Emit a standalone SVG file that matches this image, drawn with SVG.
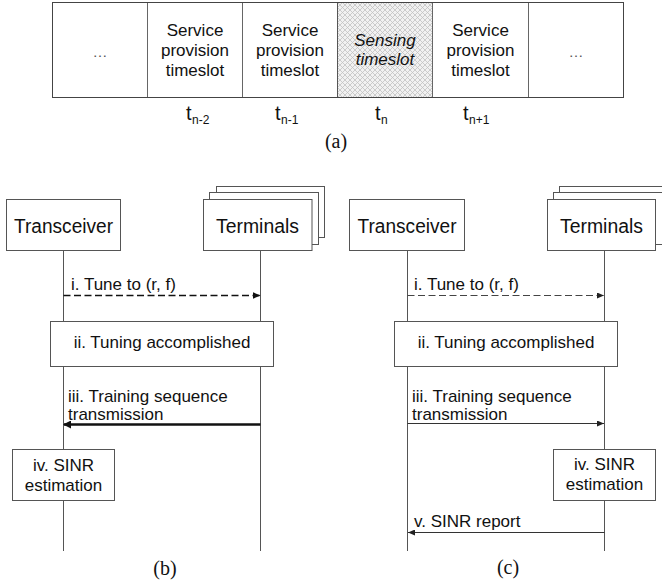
<svg xmlns="http://www.w3.org/2000/svg" width="662" height="582" viewBox="0 0 662 582">
<defs>
<style>
.s{font-family:"Liberation Sans",Arial,sans-serif;font-size:17px;fill:#111}
.m{text-anchor:middle}
.h{font-size:20px}
.it{font-style:italic}
.sub{font-size:12px}
.cap{font-family:"Liberation Serif","Times New Roman",serif;font-size:20px;fill:#111;text-anchor:middle}
.box{fill:#fff;stroke:#555;stroke-width:1}
.life{stroke:#555;stroke-width:1;fill:none}
.cell{fill:#fff;stroke:#666;stroke-width:1}
.dots{fill:#555;font-size:15px}
</style>
<pattern id="hatch" width="5" height="5" patternUnits="userSpaceOnUse">
<rect width="5" height="5" fill="#f1f1f1"/>
<path d="M0,0 L5,5 M5,0 L0,5" stroke="#c2c2c2" stroke-width="0.8"/>
</pattern>
<marker id="ah" markerUnits="userSpaceOnUse" markerWidth="8" markerHeight="7" refX="8" refY="3.5" orient="auto"><path d="M0,0 L8,3.5 L0,7 z" fill="#111"/></marker>
<marker id="ahb" markerUnits="userSpaceOnUse" markerWidth="8" markerHeight="8" refX="7" refY="4" orient="auto"><path d="M0,0 L8,4 L0,8 z" fill="#111"/></marker>
<marker id="ahg" markerUnits="userSpaceOnUse" markerWidth="7" markerHeight="6" refX="7" refY="3" orient="auto"><path d="M0,0 L7,3 L0,6 z" fill="#222"/></marker>
</defs>
<rect width="662" height="582" fill="#fff"/>

<!-- (a) timeline -->
<g id="timeline">
<g id="cell-prev"><rect class="cell" x="52.5" y="2.5" width="95" height="95"/><text class="s m dots" x="100" y="57">…</text></g>
<g id="cell-tn2"><rect class="cell" x="147.5" y="2.5" width="95" height="95"/>
<text class="s m" x="195" y="36">Service</text><text class="s m" x="195" y="56">provision</text><text class="s m" x="195" y="76">timeslot</text></g>
<g id="cell-tn1"><rect class="cell" x="242.5" y="2.5" width="95" height="95"/>
<text class="s m" x="290" y="36">Service</text><text class="s m" x="290" y="56">provision</text><text class="s m" x="290" y="76">timeslot</text></g>
<g id="cell-tn"><rect x="337.5" y="2.5" width="95" height="95" fill="url(#hatch)" stroke="#555" stroke-width="1"/>
<text class="s m it" x="385" y="46">Sensing</text><text class="s m it" x="385" y="65">timeslot</text></g>
<g id="cell-tn+1"><rect class="cell" x="432.5" y="2.5" width="96" height="95"/>
<text class="s m" x="480.5" y="36">Service</text><text class="s m" x="480.5" y="56">provision</text><text class="s m" x="480.5" y="76">timeslot</text></g>
<g id="cell-next"><rect class="cell" x="528.5" y="2.5" width="95" height="95"/><text class="s m dots" x="576" y="57">…</text></g>
<rect x="52.5" y="2.5" width="571" height="95" fill="none" stroke="#444" stroke-width="1"/>
<g id="labels">
<text class="s h" x="186" y="120">t</text><text class="s sub" x="192" y="124">n-2</text>
<text class="s h" x="275" y="120">t</text><text class="s sub" x="281" y="124">n-1</text>
<text class="s h" x="375" y="120">t</text><text class="s sub" x="381" y="124">n</text>
<text class="s h" x="463" y="120">t</text><text class="s sub" x="469" y="124">n+1</text>
</g>
<text class="cap" x="336" y="148">(a)</text>
</g>

<!-- (b) -->
<g id="lifelines-b">
<line class="life" x1="63.5" y1="251" x2="63.5" y2="551"/>
<line class="life" x1="260.5" y1="251" x2="260.5" y2="551"/>
</g>
<g id="b-transceiver"><rect class="box" x="6.5" y="199.5" width="114" height="51"/>
<text class="s h m" x="63.5" y="233" textLength="99" lengthAdjust="spacingAndGlyphs">Transceiver</text></g>
<g id="b-terminals">
<rect class="box" x="216.5" y="186.5" width="108" height="51"/>
<rect class="box" x="209.5" y="192.5" width="109" height="52"/>
<rect class="box" x="203.5" y="199.5" width="108.5" height="51"/>
<text class="s h m" x="257.5" y="233" textLength="83" lengthAdjust="spacingAndGlyphs">Terminals</text></g>
<g id="b-tuning"><rect class="box" x="50.5" y="321.5" width="223" height="45"/>
<text class="s m" x="162" y="348">ii. Tuning accomplished</text></g>
<g id="b-sinr"><rect class="box" x="12.5" y="449.5" width="102" height="51"/>
<text class="s m" x="63.5" y="471">iv. SINR</text><text class="s m" x="63.5" y="491">estimation</text></g>
<g id="connectors-b">
<line x1="63.5" y1="295.5" x2="260.5" y2="295.5" stroke="#111" stroke-width="1.6" stroke-dasharray="7,3.5" marker-end="url(#ah)"/>
<text class="s" x="71" y="290">i. Tune to (r, f)</text>
<text class="s" x="68" y="402">iii. Training sequence</text>
<text class="s" x="68" y="420">transmission</text>
<line x1="260.5" y1="424.5" x2="64" y2="424.5" stroke="#111" stroke-width="2.6" marker-end="url(#ahb)"/>
</g>
<text class="cap" x="165" y="575">(b)</text>

<!-- (c) -->
<g id="lifelines-c">
<line class="life" x1="407.5" y1="251" x2="407.5" y2="551"/>
<line class="life" x1="604.5" y1="251" x2="604.5" y2="551"/>
</g>
<g id="c-transceiver"><rect class="box" x="349.5" y="199.5" width="115" height="51"/>
<text class="s h m" x="407" y="233" textLength="99" lengthAdjust="spacingAndGlyphs">Transceiver</text></g>
<g id="c-terminals">
<rect class="box" x="559.5" y="186.5" width="110" height="51"/>
<rect class="box" x="553.5" y="192.5" width="110" height="52"/>
<rect class="box" x="547.5" y="199.5" width="108" height="51"/>
<text class="s h m" x="601.5" y="233" textLength="83" lengthAdjust="spacingAndGlyphs">Terminals</text></g>
<g id="c-tuning"><rect class="box" x="394.5" y="321.5" width="223" height="45"/>
<text class="s m" x="506" y="348">ii. Tuning accomplished</text></g>
<g id="c-sinr"><rect class="box" x="553.5" y="449.5" width="102" height="51"/>
<text class="s m" x="604.5" y="470">iv. SINR</text><text class="s m" x="604.5" y="490">estimation</text></g>
<g id="connectors-c">
<line x1="407.5" y1="295.5" x2="604" y2="295.5" stroke="#444" stroke-width="1" stroke-dasharray="7,3.5" marker-end="url(#ahg)"/>
<text class="s" x="414" y="290">i. Tune to (r, f)</text>
<text class="s" x="412" y="402">iii. Training sequence</text>
<text class="s" x="412" y="420">transmission</text>
<line x1="407.5" y1="423.5" x2="604" y2="423.5" stroke="#333" stroke-width="1" marker-end="url(#ahg)"/>
<text class="s" x="414" y="527">v. SINR report</text>
<line x1="604.5" y1="532.5" x2="408" y2="532.5" stroke="#333" stroke-width="1" marker-end="url(#ahg)"/>
</g>
<text class="cap" x="508" y="574">(c)</text>
</svg>
